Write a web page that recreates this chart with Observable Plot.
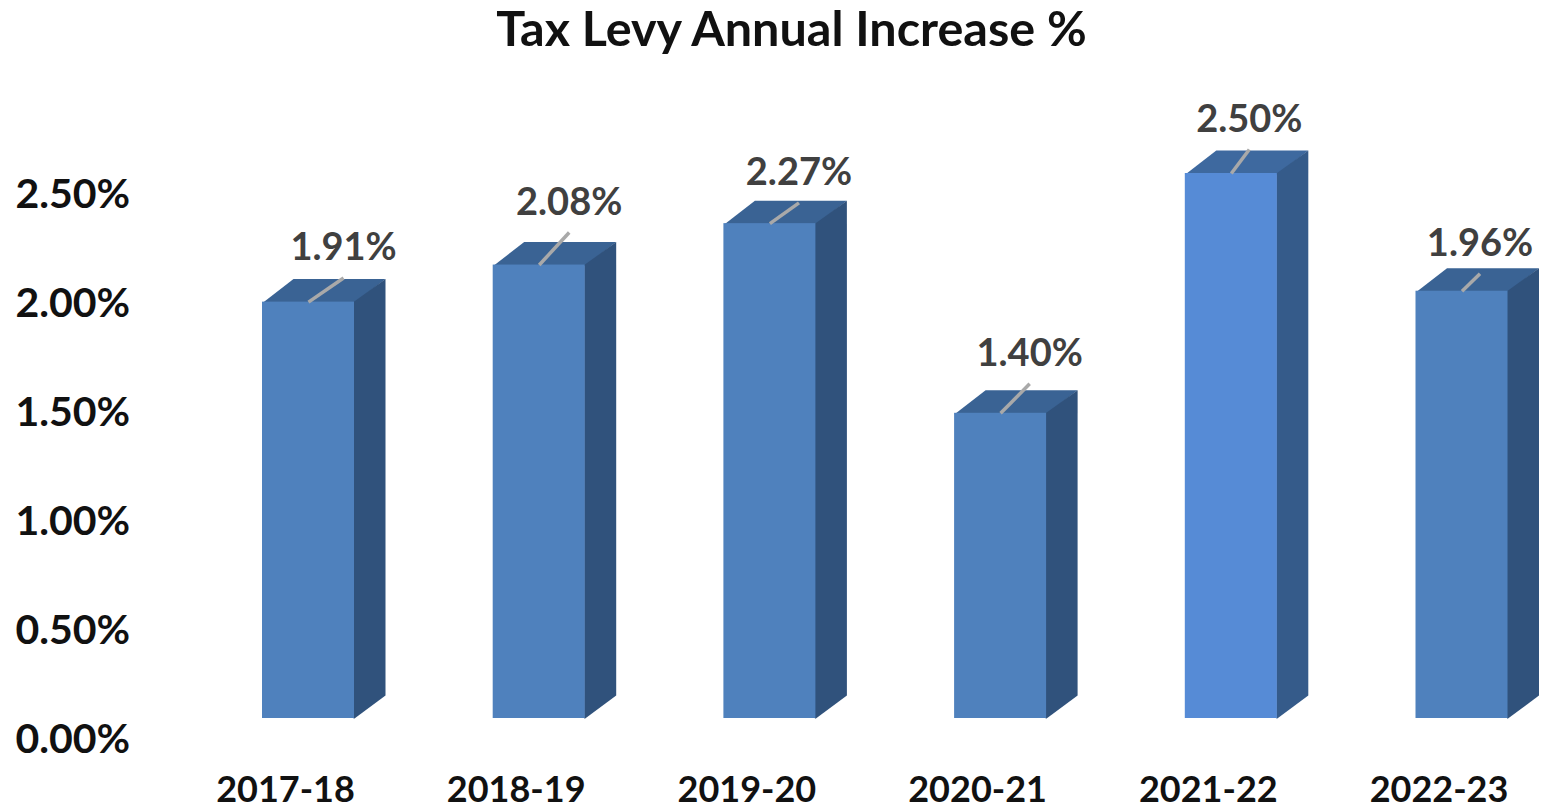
<!DOCTYPE html>
<html>
<head>
<meta charset="utf-8">
<script src="https://cdn.jsdelivr.net/npm/d3@7"></script>
<script src="https://cdn.jsdelivr.net/npm/@observablehq/plot@0.6"></script>
<style>
html,body{margin:0;padding:0;background:#fff;overflow:hidden}
#title{height:60px;text-align:center;font:700 48.5px/54px Lato,sans-serif;color:#111;transform:translateX(21px)}
svg{display:block}
</style>
</head>
<body>
<div id="title">Tax Levy Annual Increase %</div>
<div id="chart"></div>
<script>
const years = ["2017-18","2018-19","2019-20","2020-21","2021-22","2022-23"];
const increases = [1.91,2.08,2.27,1.40,2.50,1.96];
const labelRight = [0.152,0.130,0.126,0.126,0.078,0.078];
const labelUp = [0.248,0.287,0.233,0.273,0.248,0.218];
const yTicks = [0,0.5,1,1.5,2,2.5];

const W = 1541, H = 749, top0 = 60;
const unitX = 230.7, unitY = 218;
const halfBar = 46 / unitX;
const depthX = 31 / unitX, depthY = 23 / unitY;
const seamX = 1 / unitX, seamY = 1 / unitY;
const frontFill = i => i === 4 ? "#568bd6" : "#4f81bd";
const topFill = i => i === 4 ? "#3e699f" : "#3a6394";
const sideFill = i => i === 4 ? "#355b8a" : "#30527c";

const bars = years.map((year,i)=>({year,i,v:increases[i]}));
const poly = (kind) => bars.flatMap(b=>{
  const l=b.i-halfBar, r=b.i+halfBar;
  const pts = kind==="top"
    ? [[l,b.v-seamY],[r,b.v-seamY],[r+depthX,b.v+depthY],[l+depthX,b.v+depthY]]
    : [[r-seamX,b.v],[r+depthX,b.v+depthY],[r+depthX,depthY],[r,0],[r-seamX,0]];
  return pts.map(([x,y])=>({x,y,i:b.i,c:kind==="top"?topFill(b.i):sideFill(b.i)}));
});

const font = "Lato, sans-serif";
const plot = Plot.plot({
  width:W,height:H,
  marginLeft:0,marginRight:0,marginTop:0,marginBottom:0,
  style:{fontFamily:font,background:"#fff"},
  x:{type:"linear",domain:[0,5],range:[308,1461.5],axis:null},
  y:{type:"linear",domain:[0,2.5],range:[718-top0,173-top0],axis:null},
  marks:[
    Plot.line(poly("top"),{x:"x",y:"y",z:"i",fill:"c",stroke:null}),
    Plot.line(poly("side"),{x:"x",y:"y",z:"i",fill:"c",stroke:null}),
    Plot.rect(bars,{x1:d=>d.i-halfBar,x2:d=>d.i+halfBar,y1:0,y2:"v",fill:d=>frontFill(d.i)}),
    Plot.link(bars,{
      x1:"i",y1:"v",
      x2:d=>d.i+labelRight[d.i],
      y2:d=>d.v+labelUp[d.i]-30/unitY,
      stroke:"#a9a9a9",strokeWidth:3.5
    }),
    Plot.text(bars,{
      x:d=>d.i+labelRight[d.i],y:d=>d.v+labelUp[d.i],
      text:d=>d.v.toFixed(2)+"%",
      fill:"#404040",fontSize:38,fontWeight:700,lineAnchor:"middle"
    }),
    Plot.axisY(yTicks,{tickSize:0,anchor:"left",label:null,
      tickFormat:d=>d.toFixed(2)+"%",
      textAnchor:"start",dx:24,dy:21,fontSize:41,fontWeight:700,fill:"#111"}),
    Plot.text(bars,{x:"i",y:0,text:"year",dx:-23,dy:72,fontSize:36,fontWeight:700,fill:"#111",lineAnchor:"middle"})
  ]
});
document.getElementById("chart").append(plot);
</script>
</body>
</html>
